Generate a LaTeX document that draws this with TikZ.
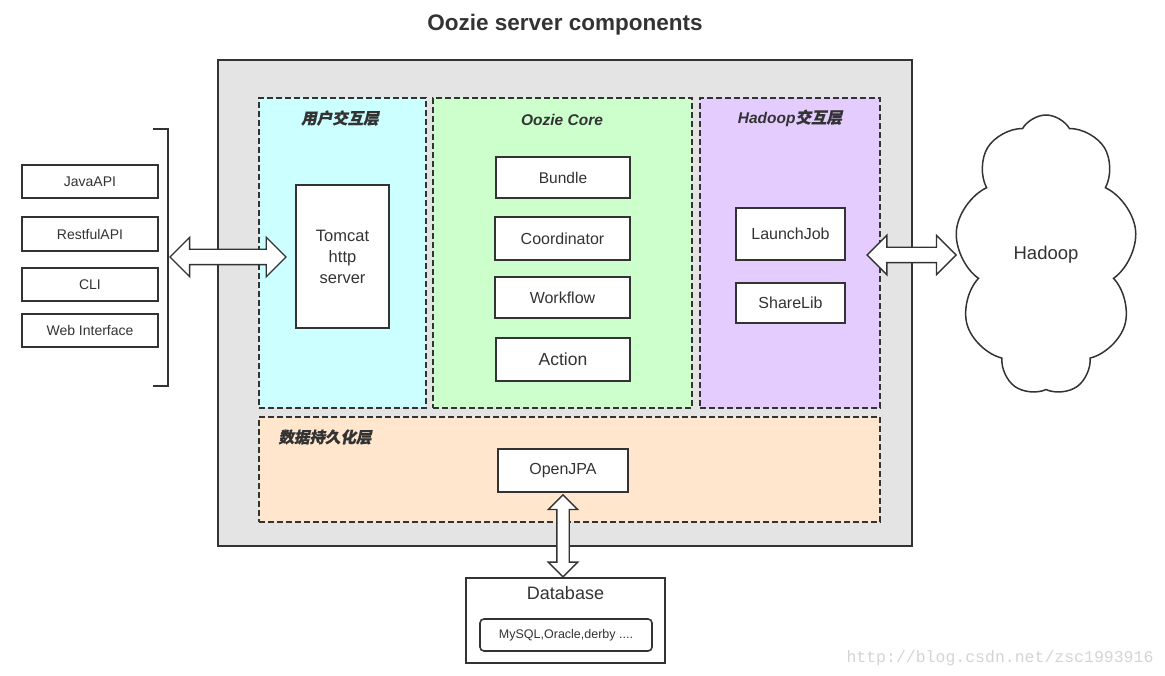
\documentclass[tikz,border=0pt]{standalone}
\usepackage{fontspec}
\setmainfont{Liberation Sans}
\setmonofont{Liberation Mono}
\newfontfamily\cjk{Noto Sans CJK SC}[FakeSlant=0.2,FakeBold=0.6]
\usetikzlibrary{positioning,shapes.symbols,shapes.arrows}
\definecolor{ink}{HTML}{333333}
\definecolor{servergray}{HTML}{E4E4E4}
\definecolor{usercyan}{HTML}{CCFFFF}
\definecolor{coregreen}{HTML}{CCFFCC}
\definecolor{hadooppurple}{HTML}{E5CCFF}
\definecolor{storepeach}{HTML}{FFE6CC}
\tikzset{
  box/.style={draw=ink, line width=1.6pt, fill=white, text=ink, inner sep=0pt,
    font=\fontsize{15.5}{18}\selectfont},
  layer/.style={draw=ink, line width=1.5pt, dash pattern=on 6pt off 3pt, inner sep=0pt},
  layerlabel/.style={text=ink, font=\fontsize{15.5}{18}\selectfont\bfseries\itshape},
  fatarrow/.style={double arrow, draw=ink, line width=1.4pt, fill=white, inner xsep=0pt, inner ysep=7pt,
    minimum width=38pt, double arrow head extend=12pt, double arrow tip angle=90},
}
\begin{document}
\begin{tikzpicture}[x=1pt,y=-1pt]
    \useasboundingbox (0,0) rectangle (1165,676);

    % title
    \node[text=ink, font=\fontsize{22.5}{26}\selectfont\bfseries] (title) at (565,25) {Oozie server components};

    % server frame and its layers
    \node[draw=ink, line width=1.8pt, fill=servergray, minimum width=694pt, minimum height=486pt] (server) at (565,303) {};
    \node[layer, fill=usercyan, minimum width=167pt, minimum height=310pt] (userlayer) at (342.5,253) {};
    \node[layer, fill=coregreen, minimum width=259pt, minimum height=310pt] (corelayer) at (562.5,253) {};
    \node[layer, fill=hadooppurple, minimum width=180pt, minimum height=310pt] (hadooplayer) at (790,253) {};
    \node[layer, fill=storepeach, minimum width=621pt, minimum height=105pt] (storelayer) at (569.5,469.5) {};

    \node[layerlabel] (userlabel) at (340,118) {\cjk 用户交互层};
    \node[layerlabel] (corelabel) at (562,120) {Oozie Core};
    \node[layerlabel] (hadooplabel) at (790,118) {Hadoop{\cjk 交互层}};
    \node[layerlabel] (storelabel) at (325,437) {\cjk 数据持久化层};

    % clients on the left
    \node[box, minimum width=136pt, minimum height=33pt, font=\fontsize{14}{16}\selectfont] (javaapi) at (90,181.5) {JavaAPI};
    \node[box, minimum width=136pt, minimum height=34pt, font=\fontsize{14}{16}\selectfont] (restapi) at (90,234) {RestfulAPI};
    \node[box, minimum width=136pt, minimum height=33pt, font=\fontsize{14}{16}\selectfont] (cli) at (90,284.5) {CLI};
    \node[box, minimum width=136pt, minimum height=33pt, font=\fontsize{14}{16}\selectfont] (webui) at (90,330.5) {Web Interface};
    \draw[ink, line width=1.6pt] (153,129) -- (168,129) -- (168,386) -- (153,386);
    \coordinate (brk) at (168,257);

    % components
    \node[box, minimum width=93pt, minimum height=143pt, align=center, font=\fontsize{16.5}{21}\selectfont] (tomcat) at (342.5,256.5) {Tomcat\\http\\server};
    \node[box, minimum width=134pt, minimum height=41pt] (bundle) at (563,177.5) {Bundle};
    \node[box, minimum width=135pt, minimum height=43pt, font=\fontsize{16}{18}\selectfont] (coord) at (562.5,238.5) {Coordinator};
    \node[box, minimum width=135pt, minimum height=41pt, font=\fontsize{16}{18}\selectfont] (workflow) at (562.5,297.5) {Workflow};
    \node[box, minimum width=134pt, minimum height=43pt, font=\fontsize{17.5}{20}\selectfont] (action) at (563,359.5) {Action};
    \node[box, minimum width=109pt, minimum height=52pt, font=\fontsize{16}{18}\selectfont] (launchjob) at (790.5,234) {LaunchJob};
    \node[box, minimum width=109pt, minimum height=40pt, font=\fontsize{16}{18}\selectfont] (sharelib) at (790.5,303) {ShareLib};
    \node[box, minimum width=130pt, minimum height=43pt, font=\fontsize{16}{18}\selectfont] (openjpa) at (563,470.5) {OpenJPA};

    % database
    \node[box, minimum width=199pt, minimum height=85pt] (db) at (565.5,620.5) {};
    \node[text=ink, font=\fontsize{18}{20}\selectfont] (dbtitle) at (565.5,593) {Database};
    \node[box, rounded corners=4pt, minimum width=172pt, minimum height=32pt, font=\fontsize{12.5}{14}\selectfont] (dblist) at (566,635) {MySQL,Oracle,derby ....};

    % hadoop cloud
    \node[cloud, draw=ink, line width=1.5pt, fill=white, text=ink, cloud puffs=9, cloud puff arc=120,
          cloud ignores aspect, minimum width=182pt, minimum height=280pt,
          font=\fontsize{18.5}{22}\selectfont] (hadoop) at (1046,255) {Hadoop};

    % double arrows
    \node[fatarrow, minimum height=116pt, right=1pt of brk] (apiarrow) {};
    \node[fatarrow, minimum height=89pt, left=2pt of hadoop.west] (hdparrow) {};
    \node[fatarrow, shape border rotate=90, inner xsep=5.5pt, inner ysep=0pt, minimum width=28pt,
          double arrow head extend=8.5pt, minimum height=82pt, below=1pt of openjpa] (dbarrow) {};

    % watermark
    \node[anchor=base west, text=black!17, font=\ttfamily\fontsize{16.5}{18}\selectfont] (mark) at (843,662) {http://blog.csdn.net/zsc1993916};
\end{tikzpicture}
\end{document}
